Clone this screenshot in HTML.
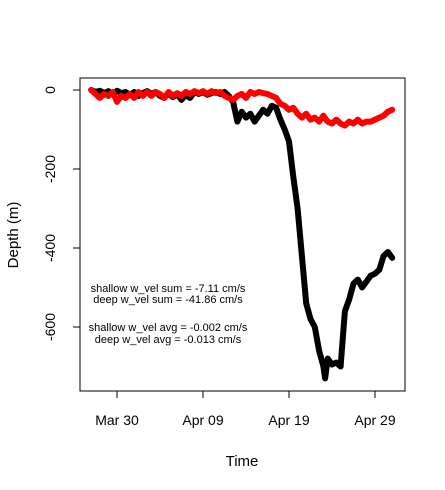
<!DOCTYPE html>
<html><head><meta charset="utf-8"><style>body{margin:0;background:#fff}svg{display:block;font-family:"Liberation Sans",sans-serif}</style></head>
<body>
<svg id="chart" width="445" height="490" viewBox="0 0 445 490">
<rect x="80" y="78" width="325" height="313" fill="none" stroke="#000" stroke-width="1"/>
<g id="axes"></g>
<g id="series"></g>
<g font-size="11" text-anchor="middle" fill="#000">
<text x="168" y="292">shallow w_vel sum =  -7.11 cm/s</text>
<text x="168" y="303">deep w_vel sum =  -41.86 cm/s</text>
<text x="168" y="331">shallow w_vel avg =  -0.002 cm/s</text>
<text x="168" y="343">deep w_vel avg =  -0.013 cm/s</text>
</g>
<text x="242" y="466" font-size="15" text-anchor="middle">Time</text>
<text transform="translate(18,235) rotate(-90)" font-size="15" text-anchor="middle">Depth (m)</text>
</svg>
<script>
const days=[-3,-2.5,-2,-1.5,-1,-0.5,0,0.5,1,1.5,2,2.5,3,3.5,4,4.5,5,5.5,6,6.5,7,7.5,8,8.5,9,9.5,10,10.5,11,11.5,12,12.5,13,13.5,14,14.5,15,15.5,16,16.5,17,17.5,18,18.5,19,19.5,20,20.5,21,21.5,22,22.5,23,23.5,24,24.2,24.5,25,25.5,26,26.5,27,27.5,28,28.5,29,29.5,30,30.5,31,31.5,32];
const deep=[0,-5,-2,-8,-3,-10,-2,-8,-5,-12,-5,-15,-8,-3,-10,-5,-15,-20,-8,-18,-10,-25,-12,-20,-5,-10,-5,-12,-8,-5,-10,-5,-15,-30,-80,-55,-70,-60,-80,-65,-50,-60,-40,-45,-75,-100,-130,-220,-300,-420,-540,-580,-600,-660,-700,-730,-680,-695,-690,-700,-560,-530,-490,-480,-500,-485,-470,-465,-455,-420,-410,-425];
const shallow=[0,-10,-20,-10,-15,-5,-30,-15,-20,-10,-20,-5,-15,-5,-15,-5,-10,-20,-5,-15,-8,-15,-5,-10,-3,-8,-3,-10,-3,-8,-5,-15,-20,-25,-15,-10,-20,-5,-10,-5,-8,-10,-15,-20,-35,-40,-50,-45,-60,-70,-60,-75,-70,-80,-65,-72,-80,-85,-75,-85,-90,-80,-85,-75,-85,-80,-80,-75,-70,-65,-55,-50];
const yTicks=[0,-200,-400,-600];
const xTickDays=[0,10,20,30];
const xTickLabels=["Mar 30","Apr 09","Apr 19","Apr 29"];
const X=d=>117+d*8.6, Y=v=>90-v*0.395;
const NS="http://www.w3.org/2000/svg";
const axes=document.getElementById('axes'), ser=document.getElementById('series');
function mk(t,a,p){const e=document.createElementNS(NS,t);for(const k in a)e.setAttribute(k,a[k]);p.appendChild(e);return e;}
yTicks.forEach(v=>{
 const l=mk('line',{x1:73,x2:80,y1:Y(v),y2:Y(v),stroke:'#000'},axes);
 
 
 const t=mk('text',{transform:`translate(55,${Y(v)}) rotate(-90)`,'font-size':14,'text-anchor':'middle'},axes);
 t.textContent=v;
 
 
});
xTickDays.forEach((d,i)=>{
 const l=mk('line',{x1:X(d),x2:X(d),y1:391,y2:398,stroke:'#000'},axes);
 
 
 const t=mk('text',{x:X(d),y:425,'font-size':14,'text-anchor':'middle'},axes);
 t.textContent=xTickLabels[i];
 
 
});
function draw(vals,color,name){
 const pts=days.map((d,i)=>X(d)+','+Y(vals[i])).join(' ');
 const p=mk('polyline',{points:pts,fill:'none',stroke:color,'stroke-width':6,'stroke-linejoin':'round','stroke-linecap':'round'},ser);
 
 
}
draw(deep,'#000','deep-series');
draw(shallow,'#f00','shallow-series');
</script>
</body></html>
